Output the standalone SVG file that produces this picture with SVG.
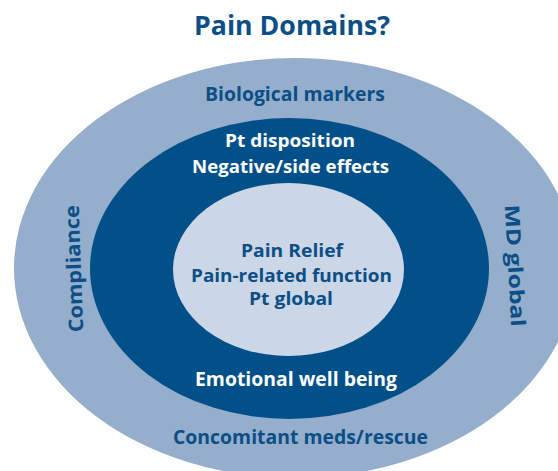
<svg xmlns="http://www.w3.org/2000/svg" width="558" height="471" viewBox="0 0 558 471">
<style>
text{font-family:"Open Sans","Liberation Sans",sans-serif;font-weight:bold;text-anchor:middle}
.dk{fill:#0b4f86}
.wh{fill:#ffffff}
</style>
<rect x="0" y="0" width="558" height="471" fill="#ffffff"/>
<text id="title" class="dk" x="292" y="35" font-size="26" textLength="196" lengthAdjust="spacingAndGlyphs">Pain Domains?</text>
<g id="outer">
<ellipse cx="295" cy="268" rx="281" ry="210" fill="#94aecb"/>
<text class="dk" x="295" y="101" font-size="20" textLength="180" lengthAdjust="spacingAndGlyphs">Biological markers</text>
<text class="dk" x="300.5" y="444" font-size="20" textLength="255" lengthAdjust="spacingAndGlyphs">Concomitant meds/rescue</text>
<text class="dk" transform="translate(81,268.5) rotate(-92)" font-size="20" textLength="127" lengthAdjust="spacingAndGlyphs">Compliance</text>
<text class="dk" transform="translate(508,266) rotate(87)" font-size="20" textLength="122" lengthAdjust="spacingAndGlyphs">MD global</text>
</g>
<g id="middle">
<ellipse cx="289.5" cy="268.5" rx="199.5" ry="150.5" fill="#02508a"/>
<text class="wh" x="290" y="147" font-size="17.5" textLength="130" lengthAdjust="spacingAndGlyphs">Pt disposition</text>
<text class="wh" x="290.5" y="173" font-size="17.5" textLength="197" lengthAdjust="spacingAndGlyphs">Negative/side effects</text>
<text class="wh" x="296" y="386" font-size="19" textLength="202" lengthAdjust="spacingAndGlyphs">Emotional well being</text>
</g>
<g id="inner">
<ellipse cx="288.5" cy="269.5" rx="115.5" ry="86.5" fill="#cbd6e6"/>
<text class="dk" x="292" y="257" font-size="18.5" textLength="102" lengthAdjust="spacingAndGlyphs">Pain Relief</text>
<text class="dk" x="291.5" y="282" font-size="18.5" textLength="201" lengthAdjust="spacingAndGlyphs">Pain-related function</text>
<text class="dk" x="291" y="305" font-size="18.5" textLength="84" lengthAdjust="spacingAndGlyphs">Pt global</text>
</g>
</svg>
